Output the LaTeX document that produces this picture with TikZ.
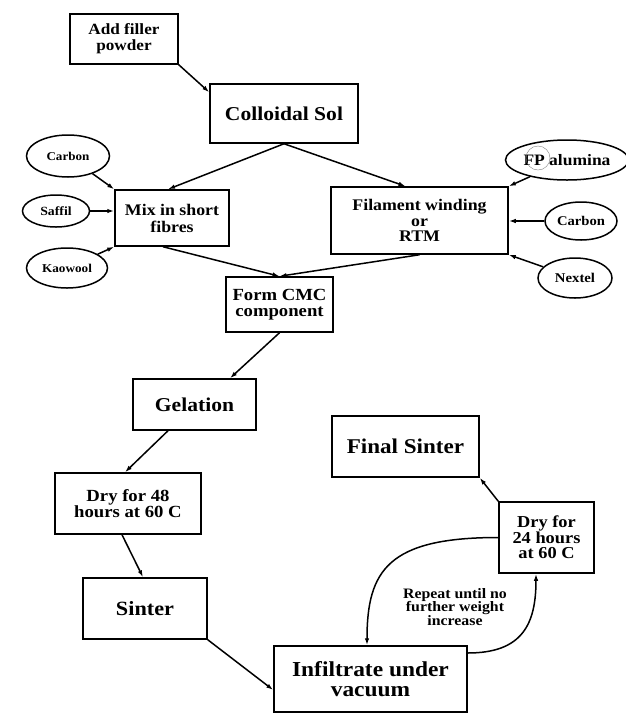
\documentclass[tikz,border=0pt]{standalone}
\usepackage{fontspec}
\setmainfont{Liberation Serif}[FakeStretch=1.1]
\usetikzlibrary{arrows.meta,shapes.geometric}
\begin{document}
\begin{tikzpicture}[x=1pt,y=-1pt,
 fs/.style 2 args={font=\bfseries\fontsize{#1}{#2}\selectfont},
 box/.style={draw, line width=1.5pt, rectangle, inner sep=0pt, align=center},
 oval/.style={draw, line width=1.5pt, ellipse, inner sep=0pt, align=center},
 arr/.style={line width=1.5pt, -{Latex[length=7pt,width=4.5pt]}}]
\useasboundingbox (0,0) rectangle (625,716);
\fill[white] (0,0) rectangle (625,716);
% boxes
\node[box, fs={15.6}{16}, minimum width=108pt, minimum height=50pt] (add) at (124,39) {Add filler\\powder};
\node[box, fs={19.6}{20}, minimum width=148pt, minimum height=59pt] (sol) at (284,113.5) {Colloidal Sol};
\node[box, fs={16.2}{17}, minimum width=114pt, minimum height=56pt] (mix) at (172,218) {Mix in short\\fibres};
\node[box, fs={16.2}{15.5}, minimum width=177pt, minimum height=67pt] (fil) at (419.5,220.5) {Filament winding\\or\\RTM};
\node[box, fs={17}{16.5}, minimum width=107pt, minimum height=55pt] (cmc) at (279.5,304.5) {Form CMC\\component};
\node[box, fs={19.6}{20}, minimum width=123pt, minimum height=51pt] (gel) at (194.5,404.5) {Gelation};
\node[box, fs={17}{16.5}, minimum width=146pt, minimum height=61pt] (dry48) at (128,503.5) {Dry for 48\\hours at 60 C};
\node[box, fs={20.2}{20}, minimum width=124pt, minimum height=61pt] (sinter) at (145,608.5) {Sinter};
\node[box, fs={21.3}{20.5}, minimum width=193pt, minimum height=66pt] (inf) at (370.5,679) {Infiltrate under\\vacuum};
\node[box, fs={21}{20}, minimum width=147pt, minimum height=61pt] (fin) at (405.5,446.5) {Final Sinter};
\node[box, fs={16.7}{15.5}, minimum width=95pt, minimum height=71pt] (dry24) at (546.5,537.5) {Dry for\\24 hours\\at 60 C};
% ellipses
\node[oval, fs={11.9}{12}, minimum width=83pt, minimum height=42pt] (c1) at (68,156) {Carbon};
\node[oval, fs={12.5}{12}, minimum width=67pt, minimum height=32pt] (saffil) at (56,211) {Saffil};
\node[oval, fs={12}{12}, minimum width=81pt, minimum height=40pt] (kao) at (67,268) {Kaowool};
\node[oval, fs={15.9}{16}, minimum width=112pt, minimum height=40pt] (fp) at (567,160) {FP alumina};
\node[oval, fs={13.3}{13}, minimum width=72pt, minimum height=38pt] (c2) at (581,221) {Carbon};
\node[oval, fs={13.4}{13}, minimum width=74pt, minimum height=40pt] (nextel) at (575,278) {Nextel};
\draw[gray, line width=0.4pt] (538,158) circle (12);
% label
\node[fs={14.4}{13.5}, align=center] (rep) at (455,607) {Repeat until no\\further weight\\increase};
% connectors
\draw[arr] (add.south east) -- ([yshift=-9pt]sol.north west);
\draw[arr] (sol.south) -- ([xshift=-4pt]mix.north);
\draw[arr] (sol.south) -- ([xshift=-14pt]fil.north);
\draw[arr] ([xshift=-9pt]mix.south) -- (cmc.north);
\draw[arr] (fil.south) -- (cmc.north);
\draw[arr] (c1) -- (mix.north west);
\draw[arr] (saffil) -- (saffil -| mix.west);
\draw[arr] (kao) -- (mix.south west);
\draw[arr] (fp) -- (fil.north east);
\draw[arr] (c2) -- (c2 -| fil.east);
\draw[arr] (nextel) -- (fil.south east);
\draw[arr] (cmc.south) -- ([xshift=35.5pt]gel.north);
\draw[arr] ([xshift=-26.5pt]gel.south) -- ([xshift=-3pt]dry48.north);
\draw[arr] ([xshift=-6pt]dry48.south) -- ([xshift=-2pt]sinter.north);
\draw[arr] (sinter.south east) -- ([yshift=-11pt]inf.west);
\draw[arr] (dry24.north west) -- (fin.south east);
\draw[arr] (dry24.west) .. controls +(-110,0) and +(0,-75) .. ([xshift=-3.5pt]inf.north);
\draw[arr] ([yshift=26pt]inf.east) .. controls +(55,0) and +(0,50) .. ([xshift=-10.5pt]dry24.south);
\end{tikzpicture}
\end{document}
